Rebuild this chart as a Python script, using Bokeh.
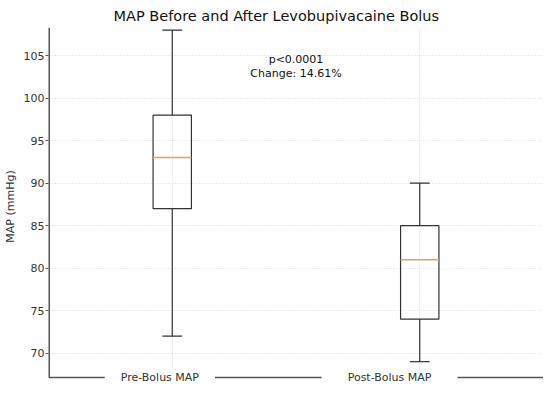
from bokeh.plotting import figure
from bokeh.models import FixedTicker, Range1d, ColumnDataSource
from bokeh.core.properties import value
from bokeh.embed import file_html
from bokeh.resources import INLINE
import numpy as np

# ---- data ----
categories = ["Pre-Bolus MAP", "Post-Bolus MAP"]
positions = [1, 2]
whisker_low = [72, 69]
q1 = [87, 74]
median = [93, 81]
q3 = [98, 85]
whisker_high = [108, 90]
y_ticks = [70, 75, 80, 85, 90, 95, 100, 105]
label_pos = [0.95, 1.878]
label_pad = [16, 26]
annotation = "p<0.0001\nChange: 14.61%"
title = "MAP Before and After Levobupivacaine Bolus"

FONT = "DejaVu Sans"
Y_AXIS_BOTTOM = 67.15
Y_MIN = 66.2
Y_MAX = 108.3

p = figure(width=543, height=385, output_backend="svg", toolbar_location=None,
           x_range=Range1d(0.5, 2.5), y_range=Range1d(Y_MIN, Y_MAX),
           min_border_left=48, min_border_right=0, min_border_bottom=0,
           min_border_top=27)
p.outline_line_color = None
p.background_fill_color = "white"

p.title.text = title
p.title.text_font = FONT
p.title.text_font_size = "14.5px"
p.title.text_font_style = "normal"
p.title.text_color = "#111111"
p.title.align = "left"
p.title.offset = 65
p.title.standoff = 7

# axes
p.xaxis.visible = False
ya = p.yaxis[0]
ya.ticker = FixedTicker(ticks=y_ticks)
ya.axis_line_color = None
ya.major_tick_out = 3
ya.major_tick_in = 0
ya.minor_tick_line_color = None
ya.major_tick_line_color = "#555555"
ya.major_label_text_font = FONT
ya.major_label_text_font_size = "11px"
ya.major_label_text_color = "#333333"
ya.major_label_standoff = 1
ya.axis_label = "MAP (mmHg)"
ya.axis_label_text_font = FONT
ya.axis_label_text_font_size = "11px"
ya.axis_label_text_font_style = "normal"
ya.axis_label_text_color = "#333333"
ya.axis_label_standoff = 4

# grid
p.ygrid.ticker = FixedTicker(ticks=y_ticks)
p.ygrid.grid_line_color = "#d8d8d8"
p.ygrid.grid_line_dash = "1 2"
p.xgrid.ticker = FixedTicker(ticks=positions)
p.xgrid.grid_line_color = "#d8d8d8"
p.xgrid.grid_line_dash = "1 2"

# axis lines drawn as glyphs
p.segment(x0=[0.5], y0=[Y_AXIS_BOTTOM], x1=[2.5], y1=[Y_AXIS_BOTTOM],
          line_color="#555555", line_width=1.5)
p.segment(x0=[0.5], y0=[Y_AXIS_BOTTOM], x1=[0.5], y1=[Y_MAX],
          line_color="#555555", line_width=3)

# category labels sitting on the bottom axis line (drawn before the boxes)
for cat, xp, pad in zip(categories, label_pos, label_pad):
    p.text(x=[xp], y=[Y_AXIS_BOTTOM], text=[cat], text_font=value(FONT),
           text_font_size="11px", text_align="center", text_baseline="middle",
           text_color="#333333", background_fill_color="white", padding=(pad, 1))

src = ColumnDataSource(dict(x=positions, low=whisker_low, q1=q1, med=median,
                            q3=q3, high=whisker_high))
box_w = 0.155
cap_w = 0.08
LC = "#333333"
# whiskers
p.segment(x0="x", y0="q3", x1="x", y1="high", source=src, line_color=LC, line_width=1.2)
p.segment(x0="x", y0="low", x1="x", y1="q1", source=src, line_color=LC, line_width=1.2)
# caps
xs = np.array(positions, dtype=float)
p.segment(x0=xs - cap_w / 2, y0=whisker_high, x1=xs + cap_w / 2, y1=whisker_high,
          line_color=LC, line_width=1.2)
p.segment(x0=xs - cap_w / 2, y0=whisker_low, x1=xs + cap_w / 2, y1=whisker_low,
          line_color=LC, line_width=1.2)
# boxes
p.vbar(x="x", width=box_w, bottom="q1", top="q3", source=src,
       fill_color=None, line_color=LC, line_width=1.2)
# medians
p.segment(x0=xs - box_w / 2, y0=median, x1=xs + box_w / 2, y1=median,
          line_color="#e0a070", line_width=1.5)

# annotation
p.text(x=[1.5], y=[103.7], text=[annotation], text_font=value(FONT),
       text_font_size="11px", text_align="center", text_baseline="middle",
       text_color="#111111", text_line_height=1.1)

open("out.html", "w").write(file_html(p, INLINE))
